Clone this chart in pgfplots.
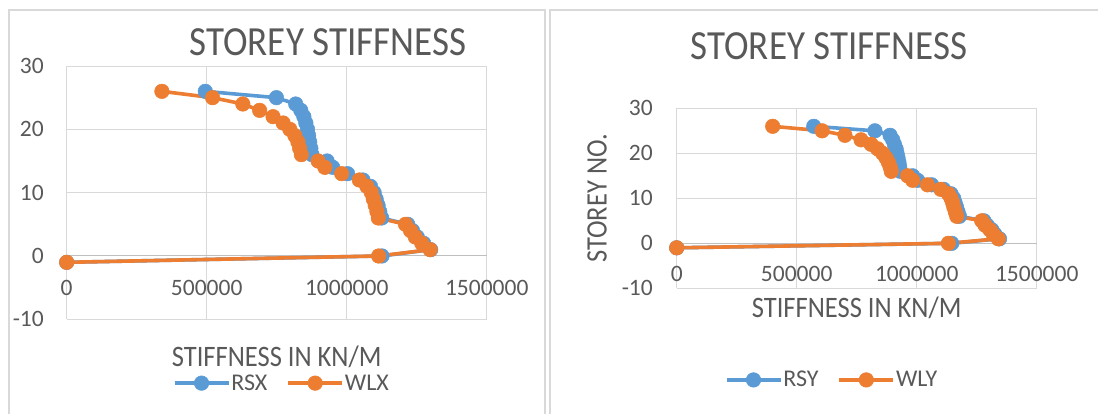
\documentclass[border=0pt]{standalone}
\usepackage{fontspec}
\setmainfont{Carlito}
\usepackage{pgfplots}
\usepackage{pgfplotstable}
\pgfplotsset{compat=1.18}

\definecolor{rsblue}{HTML}{5B9BD5}
\definecolor{wlorange}{HTML}{ED7D31}
\definecolor{gridgray}{HTML}{D9D9D9}
\definecolor{axisgray}{HTML}{BFBFBF}
\definecolor{txtgray}{HTML}{595959}

% storey, stiffness (kN/m)
\pgfplotstableread{
storey rsx wlx
-1 0 0
0 1126000 1114000
1 1300000 1298000
2 1275000 1268000
3 1252000 1245000
4 1235000 1228000
5 1218000 1210000
6 1125000 1113000
7 1118000 1108000
8 1112000 1102000
9 1105000 1095000
10 1098000 1088000
11 1085000 1072000
12 1058000 1045000
13 1003000 982000
14 950000 922000
15 930000 898000
16 876000 838000
17 872000 832000
18 868000 826000
19 864000 815000
20 860000 797000
21 854000 773000
22 847000 737000
23 836000 689000
24 818000 629000
25 749000 521000
26 495000 340000
}\stiffX

\pgfplotstableread{
storey rsy wly
-1 0 0
0 1146000 1132000
1 1345000 1340000
2 1326000 1319000
3 1313000 1305000
4 1294000 1285000
5 1280000 1271000
6 1178000 1167000
7 1172000 1161000
8 1166000 1155000
9 1160000 1150000
10 1154000 1143000
11 1143000 1132000
12 1112000 1100000
13 1062000 1045000
14 1004000 983000
15 983000 962000
16 932000 894000
17 929000 889000
18 926000 882000
19 922000 872000
20 918000 858000
21 914000 837000
22 907000 810000
23 900000 768000
24 889000 701000
25 826000 606000
26 571000 400000
}\stiffY

\pgfplotsset{
  stiff/.style={
    scale only axis, clip=false,
    xmin=0, xmax=1500000, ymin=-10, ymax=30,
    xtick={0,500000,1000000,1500000}, ytick={-10,0,10,20,30},
    scaled x ticks=false,
    grid=major, grid style={gridgray, line width=1pt},
    axis line style={draw=none}, major tick length=0pt,
    extra y ticks={0}, extra y tick labels={},
    extra y tick style={grid style={axisgray, line width=1pt}},
    tick label style={font=\fontsize{23.5}{24}\selectfont, text=txtgray,
      /pgf/number format/assume math mode=true},
    xticklabel style={/pgf/number format/fixed, /pgf/number format/1000 sep={}},
    yticklabel style={anchor=east, inner sep=0pt},
    title style={anchor=center, font=\fontsize{37}{39}\selectfont, text=txtgray},
    label style={font=\fontsize{26.5}{28}\selectfont, text=txtgray, inner sep=0pt},
    legend style={draw=none, fill=none, anchor=center, legend columns=-1,
      font=\fontsize{24}{26}\selectfont, text=txtgray,
      /tikz/every even column/.append style={column sep=18pt},
      nodes={inner sep=1pt}},
    legend image code/.code={\draw[mark repeat=2, mark phase=2, #1]
      plot coordinates {(0pt,0pt) (27pt,0pt) (54pt,0pt)};},
  },
  rs/.style={rsblue, line width=3.6pt, mark=*, mark size=7.3pt,
    mark options={fill=rsblue, draw=rsblue, line width=0.5pt}},
  wl/.style={wlorange, line width=3.6pt, mark=*, mark size=7.3pt,
    mark options={fill=wlorange, draw=wlorange, line width=0.5pt}},
}

\begin{document}
\begin{tikzpicture}
\useasboundingbox (0pt,0pt) rectangle (1098pt,-413pt);
\draw[gridgray, line width=1.5pt] (8.8pt,-430pt) -- (8.8pt,-10pt) -- (545pt,-10pt) -- (545pt,-430pt);
\draw[gridgray, line width=1.5pt] (550pt,-430pt) -- (550pt,-10pt) -- (1110pt,-10pt);

\begin{axis}[stiff,
  at={(66.7pt,-319.3pt)}, anchor=south west,
  width=420pt, height=253.3pt,
  xticklabel style={anchor=center, yshift=31.8pt},
  yticklabel style={xshift=-22.7pt},
  title={\scalebox{1}[1.12]{STOREY STIFFNESS}},
  title style={at={(0.622,1.071)}},
  xlabel={\scalebox{1}[1.12]{STIFFNESS IN KN/M}},
  xlabel style={at={(0.5,-0.147)}, anchor=center, text depth=0pt},
  legend style={at={(0.511,-0.252)}},
]
\addplot[rs] table[x=rsx, y=storey] {\stiffX};
\addlegendentry{RSX}
\addplot[wl] table[x=wlx, y=storey] {\stiffX};
\addlegendentry{WLX}
\end{axis}

\begin{axis}[stiff,
  at={(676.7pt,-288.3pt)}, anchor=south west,
  width=360pt, height=180pt,
  xticklabel style={anchor=center, yshift=14.3pt},
  yticklabel style={xshift=-23.7pt},
  title={\scalebox{1}[1.12]{STOREY STIFFNESS}},
  title style={at={(0.423,1.313)}},
  xlabel={\scalebox{1}[1.12]{STIFFNESS IN KN/M}},
  xlabel style={at={(0.5,-0.109)}, anchor=center},
  ylabel={\scalebox{1}[1.12]{STOREY NO.}},
  ylabel style={at={(-0.221,0.5)}, anchor=center, rotate=0},
  legend style={at={(0.43,-0.509)}},
]
\addplot[rs] table[x=rsy, y=storey] {\stiffY};
\addlegendentry{RSY}
\addplot[wl] table[x=wly, y=storey] {\stiffY};
\addlegendentry{WLY}
\end{axis}
\end{tikzpicture}
\end{document}
